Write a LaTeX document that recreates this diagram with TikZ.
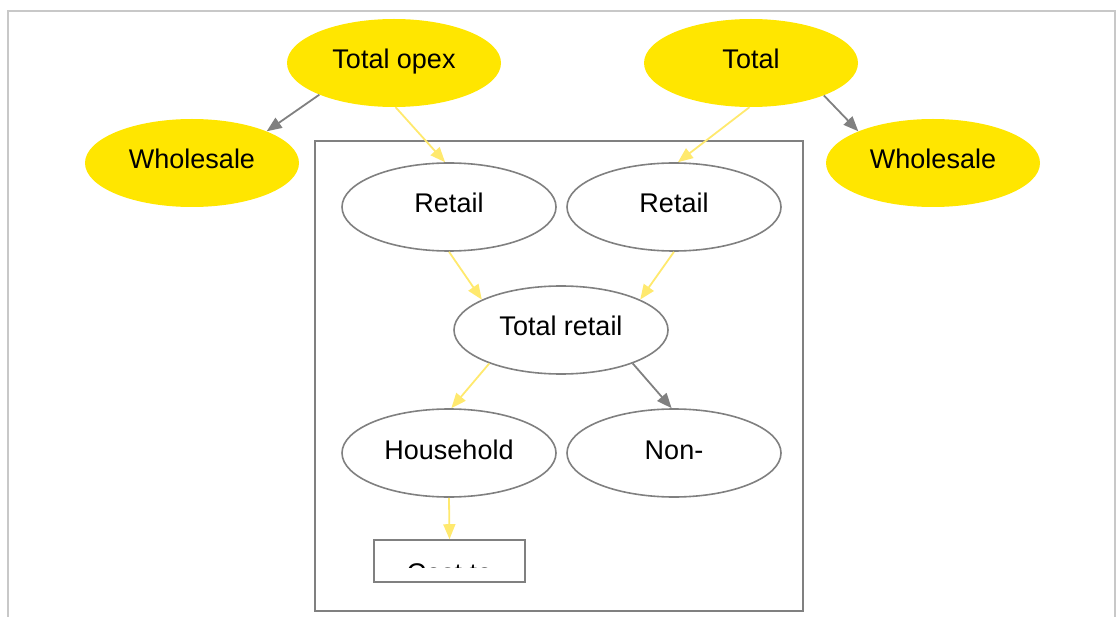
\documentclass[tikz,border=0pt]{standalone}
\usepackage{fontspec}
\setmainfont{Liberation Sans}
\usetikzlibrary{arrows.meta,shapes.geometric}
\definecolor{yfill}{RGB}{255,230,0}
\definecolor{yedge}{RGB}{255,233,110}
\definecolor{gline}{RGB}{128,128,128}
\definecolor{frame}{RGB}{200,200,200}
\begin{document}
\begin{tikzpicture}[x=1pt,y=-1pt,
  every node/.style={font=\fontsize{27}{31}\selectfont},
  yel/.style={ellipse,fill=yfill,minimum width=214pt,minimum height=88pt,inner sep=0pt},
  wht/.style={ellipse,draw=gline,line width=1.6pt,fill=white,minimum width=214pt,minimum height=88pt,inner sep=0pt},
  lbl/.style={anchor=base,inner sep=0pt},
  gedge/.style={draw=gline,line width=1.8pt,-{Triangle[length=15pt,width=12pt]}},
  yedgest/.style={draw=yedge,line width=1.8pt,-{Triangle[length=15pt,width=12pt]}}]
\useasboundingbox (0,0) rectangle (1118,617);
% outer frame
\draw[frame,line width=2.5pt] (8,617) -- (8,11) -- (1115,11) -- (1115,617);
% cluster
\draw[gline,line width=1.6pt] (315,141) rectangle (803,611);
% nodes
\node[yel] (topex) at (394,63) {};
\node[yel] (tot) at (751,63) {};
\node[yel] (wsl) at (192,163) {};
\node[yel] (wsr) at (933,163) {};
\node[wht] (retl) at (449,207) {};
\node[wht] (retr) at (674,207) {};
\node[wht] (tret) at (561,330) {};
\node[wht] (hh) at (449,453) {};
\node[wht] (non) at (674,453) {};
\node[draw=gline,line width=1.6pt,fill=white,minimum width=151pt,minimum height=42pt,inner sep=0pt] (cost) at (449.5,561) {};
% labels
\node[lbl] (topexl) at (394,69) {Total opex};
\node[lbl] (totl) at (751,69) {Total};
\node[lbl] (wsll) at (192,169) {Wholesale};
\node[lbl] (wsrl) at (933,169) {Wholesale};
\node[lbl] (retll) at (449,213) {Retail};
\node[lbl] (retrl) at (674,213) {Retail};
\node[lbl] (tretl) at (561,335) {Total retail};
\node[lbl] (hhl) at (449,459) {Household};
\node[lbl] (nonl) at (674,459) {Non-};
\begin{scope}
\clip (376,542) rectangle (523,567);
\node[lbl] (costl) at (449.5,582) {Cost to};
\end{scope}
% edges
\draw[gedge] (topex.203) -- (wsl.23);
\draw[yedgest] (topex.-88) -- (retl.95);
\draw[yedgest] (tot.-92) -- (retr.85);
\draw[gedge] (tot.-24) -- (wsr.157);
\draw[yedgest] (retl.south) -- (tret.159);
\draw[yedgest] (retr.south) -- (tret.21);
\draw[yedgest] (tret.205) -- (hh.87);
\draw[gedge] (tret.-25) -- (non.93);
\draw[yedgest] (hh.south) -- (cost.north);
\end{tikzpicture}
\end{document}
